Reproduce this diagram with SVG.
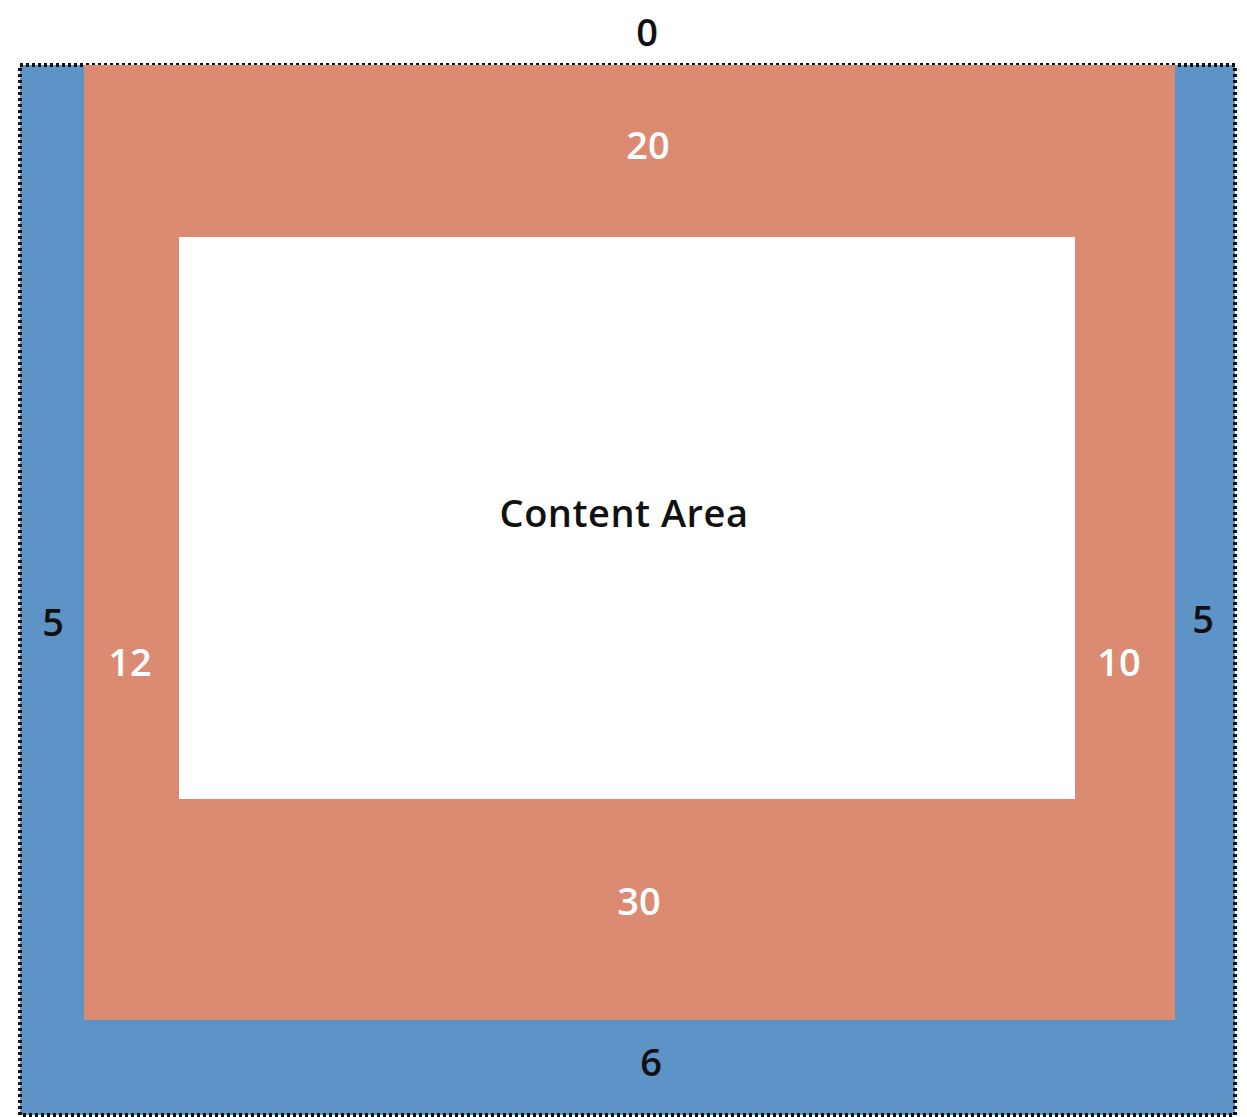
<svg xmlns="http://www.w3.org/2000/svg" width="1247" height="1117" viewBox="0 0 1247 1117">
<style>
.lbl{font-family:"Open Sans","Noto Sans","Liberation Sans",sans-serif;font-size:38px;font-weight:600;text-anchor:middle}
.dk{fill:#111}
.wt{fill:#ffffff}
</style>
<rect width="1247" height="1117" fill="#ffffff"/>
<g id="margin">
<rect x="20" y="65" width="1215" height="1050" fill="#5E93C7" stroke="#111" stroke-width="4" stroke-dasharray="3 3"/>
</g>
<g id="padding">
<rect x="84" y="65" width="1091" height="955" fill="#DB8B72"/>
</g>
<g id="content">
<rect x="179" y="237" width="896" height="562" fill="#ffffff"/>
<text class="lbl dk" x="624" y="527" style="letter-spacing:0.5px">Content Area</text>
</g>
<g id="labels">
<text class="lbl dk" x="647" y="46">0</text>
<text class="lbl wt" x="648" y="159">20</text>
<text class="lbl dk" x="53" y="636">5</text>
<text class="lbl wt" x="130" y="676">12</text>
<text class="lbl wt" x="1119" y="676">10</text>
<text class="lbl dk" x="1203" y="633">5</text>
<text class="lbl wt" x="639" y="915">30</text>
<text class="lbl dk" x="651" y="1076">6</text>
</g>
</svg>
